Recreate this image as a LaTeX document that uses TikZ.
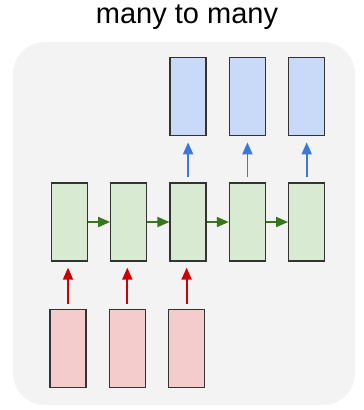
\documentclass[tikz,border=0pt]{standalone}
\usepackage{fontspec}
\setmainfont{Liberation Sans}
\usetikzlibrary{arrows.meta,positioning}
\definecolor{bgGray}{HTML}{F3F3F3}
\definecolor{outBlue}{HTML}{C9DAF8}
\definecolor{hidGreen}{HTML}{D9EAD3}
\definecolor{inRed}{HTML}{F4CCCC}
\definecolor{arrBlue}{HTML}{3C78D8}
\definecolor{arrGreen}{HTML}{38761D}
\definecolor{arrRed}{HTML}{CC0000}
\definecolor{boxLine}{HTML}{333333}
\tikzset{
    cell/.style={draw=boxLine, line width=1.3pt, minimum width=36pt, minimum height=78pt, inner sep=0pt},
    outcell/.style={cell, fill=outBlue},
    hidcell/.style={cell, fill=hidGreen},
    incell/.style={cell, fill=inRed},
    flow/.style={line width=1.8pt, -{Triangle[length=12pt, width=10pt]}},
}
\begin{document}
\begin{tikzpicture}[x=1pt, y=-1pt]
        \useasboundingbox (0,0) rectangle (364,410);
        \fill[bgGray, rounded corners=32pt] (13,42) rectangle (355,405);
        \node[anchor=base, font=\fontsize{29}{34}\selectfont] (title) at (187,23) {many to many};

        % Hidden states
        \node[hidcell] (h1) at (69.5,222) {};
        \node[hidcell, right=22pt of h1] (h2) {};
        \node[hidcell, right=22pt of h2] (h3) {};
        \node[hidcell, right=22pt of h3] (h4) {};
        \node[hidcell, right=22pt of h4] (h5) {};

        % Outputs
        \node[outcell, above=46pt of h3] (y3) {};
        \node[outcell, above=46pt of h4] (y4) {};
        \node[outcell, above=46pt of h5] (y5) {};

        % Inputs
        \node[incell, below=47pt of h1, xshift=-1.5pt] (x1) {};
        \node[incell, below=47pt of h2, xshift=-1.5pt] (x2) {};
        \node[incell, below=47pt of h3, xshift=-1.5pt] (x3) {};

        % Recurrence
        \draw[flow, arrGreen] (h1) -- (h2);
        \draw[flow, arrGreen] (h2) -- (h3);
        \draw[flow, arrGreen] (h3) -- (h4);
        \draw[flow, arrGreen] (h4) -- (h5);

        % Up arrows
        \draw[flow, arrBlue, shorten <=5pt, shorten >=6pt] (h3) -- (y3);
        \draw[flow, arrBlue, shorten <=5pt, shorten >=6pt] (h4) -- (y4);
        \draw[flow, arrBlue, shorten <=5pt, shorten >=6pt] (h5) -- (y5);
        \draw[flow, arrRed, shorten <=5pt, shorten >=6pt] (x1.north) -- (x1.north |- h1.south);
        \draw[flow, arrRed, shorten <=5pt, shorten >=6pt] (x2.north) -- (x2.north |- h2.south);
        \draw[flow, arrRed, shorten <=5pt, shorten >=6pt] (x3.north) -- (x3.north |- h3.south);
    \end{tikzpicture}
\end{document}
